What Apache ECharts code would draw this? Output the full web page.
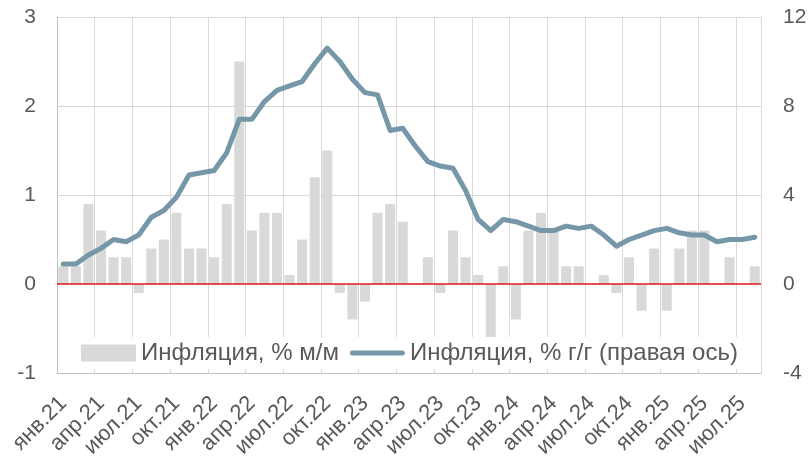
<!DOCTYPE html>
<html>
<head>
<meta charset="utf-8">
<script src="https://cdn.jsdelivr.net/npm/echarts@6/dist/echarts.min.js"></script>
<style>
html,body{margin:0;padding:0;background:#fff;}
#chart{width:812px;height:462px;}
</style>
</head>
<body>
<div id="chart"></div>
<script>
const monthNames = ['янв','фев','мар','апр','май','июн','июл','авг','сен','окт','ноя','дек'];
const years = ['21','22','23','24','25'];
const categories = [];
for (const y of years) for (const m of monthNames) categories.push(m + '.' + y);
categories.length = 56; // янв.21 – авг.25

const momValues = [
  0.2, 0.2, 0.9, 0.6, 0.3, 0.3, -0.1, 0.4, 0.5, 0.8, 0.4, 0.4,
  0.3, 0.9, 2.5, 0.6, 0.8, 0.8, 0.1, 0.5, 1.2, 1.5, -0.1, -0.4,
  -0.2, 0.8, 0.9, 0.7, 0.0, 0.3, -0.1, 0.6, 0.3, 0.1, -0.6, 0.2,
  -0.4, 0.6, 0.8, 0.6, 0.2, 0.2, 0.0, 0.1, -0.1, 0.3, -0.3, 0.4,
  -0.3, 0.4, 0.6, 0.6, 0.0, 0.3, 0.0, 0.2
];
const yoyValues = [
  0.9, 0.9, 1.3, 1.6, 2.0, 1.9, 2.2, 3.0, 3.3, 3.9, 4.9, 5.0,
  5.1, 5.9, 7.4, 7.4, 8.2, 8.7, 8.9, 9.1, 9.9, 10.6, 10.0, 9.2,
  8.6, 8.5, 6.9, 7.0, 6.2, 5.5, 5.3, 5.2, 4.2, 2.9, 2.4, 2.9,
  2.8, 2.6, 2.4, 2.4, 2.6, 2.5, 2.6, 2.2, 1.7, 2.0, 2.2, 2.4,
  2.5, 2.3, 2.2, 2.2, 1.9, 2.0, 2.0, 2.1
];
const seriesNames = ['Инфляция, % м/м', 'Инфляция, % г/г (правая ось)'];

const FONT = '"Liberation Sans", Arial, sans-serif';
const TXT = '#595959';
const LINE_COLOR = '#7597a7';

const chart = echarts.init(document.getElementById('chart'));
chart.setOption({
  animation: false,
  backgroundColor: '#ffffff',
  textStyle: { fontFamily: FONT },
  grid: { left: 57, right: 51, top: 17, bottom: 89, containLabel: false },
  legend: {
    data: [
      { name: seriesNames[0], icon: 'rect' },
      { name: seriesNames[1], icon: 'path://M2.5,0 L52.5,0 A2.5,2.5 0 0 1 52.5,5 L2.5,5 A2.5,2.5 0 0 1 2.5,0 Z', itemStyle: { color: LINE_COLOR } }
    ],
    left: 75,
    top: 337,
    backgroundColor: '#ffffff',
    padding: [4, 10, 4, 6],
    itemWidth: 55,
    itemHeight: 17,
    itemGap: 11,
    textStyle: { fontSize: 24, color: TXT, fontFamily: FONT }
  },
  xAxis: {
    type: 'category',
    data: categories,
    boundaryGap: true,
    axisLine: { onZero: false, lineStyle: { color: '#bfbfbf', width: 1 } },
    axisTick: { show: false },
    splitLine: { show: true, interval: 2, lineStyle: { color: '#d9d9d9', width: 1 } },
    axisLabel: { interval: 2, rotate: 45, fontSize: 22, color: TXT, fontFamily: FONT, margin: 27 }
  },
  yAxis: [
    {
      type: 'value', min: -1, max: 3, interval: 1,
      axisLine: { show: true, lineStyle: { color: '#bfbfbf' } },
      axisTick: { show: false },
      splitLine: { show: true, lineStyle: { color: '#d9d9d9', width: 1 } },
      axisLabel: { fontSize: 21, color: TXT, fontFamily: FONT, margin: 21 }
    },
    {
      type: 'value', min: -4, max: 12, interval: 4,
      axisLine: { show: true, lineStyle: { color: '#d9d9d9' } },
      axisTick: { show: false },
      splitLine: { show: false },
      axisLabel: { fontSize: 21, color: TXT, fontFamily: FONT, margin: 22 }
    }
  ],
  series: [
    {
      name: seriesNames[0],
      type: 'bar',
      data: momValues,
      barCategoryGap: '20%',
      itemStyle: { color: '#d9d9d9', borderRadius: 1 },
      markLine: {
        silent: true,
        symbol: 'none',
        label: { show: false },
        lineStyle: { color: '#e31a1c', width: 1.5, type: 'solid' },
        data: [{ yAxis: 0 }]
      },
      z: 2
    },
    {
      name: seriesNames[1],
      type: 'line',
      yAxisIndex: 1,
      data: yoyValues,
      symbol: 'none',
      showSymbol: false,
      itemStyle: { color: LINE_COLOR },
      lineStyle: { color: LINE_COLOR, width: 5, cap: 'round', join: 'round' },
      z: 5
    }
  ]
});
</script>
</body>
</html>
